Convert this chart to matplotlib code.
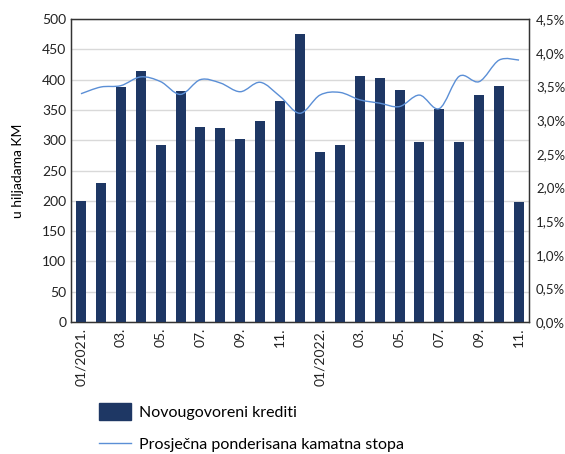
import matplotlib
matplotlib.use("Agg")
import matplotlib.pyplot as plt
from matplotlib.path import Path
from matplotlib.patches import PathPatch
from matplotlib.lines import Line2D
from matplotlib.patches import Patch
from matplotlib.ticker import FuncFormatter, MultipleLocator
import numpy as np

plt.rcParams['font.family'] = ['Lato', 'DejaVu Sans']

months = ["01/2021.", "02.", "03.", "04.", "05.", "06.", "07.", "08.", "09.", "10.", "11.", "12.",
          "01/2022.", "02.", "03.", "04.", "05.", "06.", "07.", "08.", "09.", "10.", "11."]
loans = [200, 230, 387, 414, 292, 381, 321, 320, 302, 332, 365, 476,
         280, 292, 406, 402, 383, 297, 352, 297, 375, 389, 198]
rate = [3.39, 3.49, 3.51, 3.64, 3.57, 3.38, 3.60, 3.55, 3.42, 3.56, 3.35, 3.10,
        3.37, 3.41, 3.30, 3.25, 3.20, 3.37, 3.17, 3.65, 3.57, 3.89, 3.89]

bar_color = "#1e3764"
line_color = "#5b8fd6"

fig = plt.figure(figsize=(5.65, 4.54), dpi=100)
ax = fig.add_axes([71/565, 1-322/454, (529-71)/565, (322-19)/454])
x = np.arange(len(months))
ax.bar(x, loans, width=0.5, color=bar_color, zorder=3)
ax.set_xlim(-0.5, len(months)-0.5)
ax.set_ylim(0, 500)
ax.yaxis.set_major_locator(MultipleLocator(50))
ax.grid(axis='y', color='#d9d9d9', linewidth=1, zorder=0)
ax.set_axisbelow(True)
ax.set_xticks(x[::2])
ax.set_xticklabels(months[::2], rotation=90, fontsize=10)
ax.tick_params(axis='both', length=0, labelsize=10, colors='#222222')
ax.tick_params(axis='x', pad=4)
ax.set_ylabel("u hiljadama KM", fontsize=10, labelpad=13)
for s in ax.spines.values():
    s.set_color('#333333')
    s.set_linewidth(1)

ax2 = ax.twinx()
ax2.set_ylim(0, 4.5)
ax2.yaxis.set_major_locator(MultipleLocator(0.5))
ax2.yaxis.set_major_formatter(FuncFormatter(lambda v, p: f"{v:.1f}%".replace('.', ',')))
ax2.tick_params(axis='y', length=0, labelsize=9.5, colors='#222222', pad=5)
for s in ax2.spines.values():
    s.set_color('#333333')

# smooth line (Catmull-Rom as Bezier through data points)
pts = np.column_stack([x, rate]).astype(float)
verts = [tuple(pts[0])]
codes = [Path.MOVETO]
n = len(pts)
for i in range(n-1):
    p0 = pts[i-1] if i > 0 else pts[i]
    p1 = pts[i]
    p2 = pts[i+1]
    p3 = pts[i+2] if i+2 < n else pts[i+1]
    c1 = p1 + (p2 - p0) / 6.0
    c2 = p2 - (p3 - p1) / 6.0
    verts += [tuple(c1), tuple(c2), tuple(p2)]
    codes += [Path.CURVE4]*3
ax2.add_patch(PathPatch(Path(verts, codes), facecolor='none', edgecolor=line_color, linewidth=1.0, zorder=4))

handles = [Patch(color=bar_color), Line2D([0], [0], color=line_color, linewidth=1.0)]
labels = ["Novougovoreni krediti", "Prosječna ponderisana kamatna stopa"]
fig.legend(handles, labels, loc='upper left', bbox_to_anchor=(85/565, 1-389/454),
           frameon=False, fontsize=11.5, handlelength=2.0, handleheight=1.2,
           labelspacing=1.0, handletextpad=0.5)

fig.savefig("out.png", dpi=100)
